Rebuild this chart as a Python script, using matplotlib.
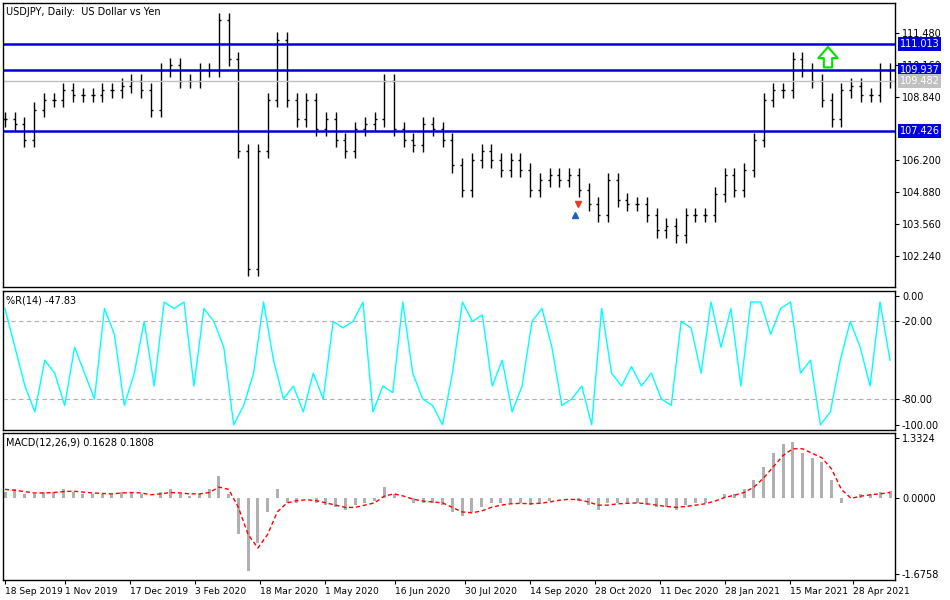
import matplotlib
matplotlib.use("Agg")
import matplotlib.pyplot as plt
import numpy as np

closes = [107.9,107.7,107.05,108.3,108.7,108.7,109.1,108.9,108.9,108.9,109.1,109.1,109.3,109.5,109.1,108.3,
          109.95,110.15,109.5,109.5,109.95,109.95,112.0,110.4,106.6,101.7,106.6,108.7,111.2,108.7,107.9,108.7,
          107.5,107.9,107.05,106.6,107.5,107.7,107.9,109.5,107.5,107.05,106.85,107.7,107.5,107.05,106.0,104.98,
          106.2,106.6,106.2,105.8,106.2,105.8,104.98,105.4,105.6,105.4,105.6,104.98,104.4,103.95,105.4,104.56,
          104.4,104.4,103.95,103.3,103.5,103.1,103.95,103.95,103.95,104.8,105.6,104.98,105.8,107.05,108.7,109.1,
          109.1,110.4,109.95,109.5,108.7,107.9,109.1,109.3,108.9,108.9,109.95,109.5]
willr = [-10,-40,-70,-90,-50,-60,-85,-40,-60,-80,-10,-30,-85,-60,-20,-70,-5,-10,-5,-70,-10,-20,-40,-100,-85,-60,
         -5,-50,-80,-70,-90,-60,-80,-20,-25,-20,-5,-90,-70,-75,-5,-60,-80,-85,-100,-60,-5,-20,-15,-70,-50,-90,-70,
         -20,-10,-40,-85,-80,-70,-100,-10,-60,-70,-55,-70,-60,-80,-85,-20,-25,-60,-5,-40,-10,-70,-5,-5,-30,-10,-5,
         -60,-50,-100,-90,-50,-20,-40,-70,-5,-50]
macd = [0.15,0.2,0.1,0.1,0.15,0.15,0.2,0.15,0.1,0.1,0.1,0.1,0.15,0.15,0.1,0.0,0.15,0.2,0.1,0.05,0.1,0.2,0.5,
        0.1,-0.8,-1.6,-1.0,-0.3,0.2,-0.1,-0.1,0.0,-0.1,-0.15,-0.2,-0.25,-0.15,-0.1,-0.05,0.25,0.1,0.0,-0.1,-0.1,
        -0.1,-0.15,-0.3,-0.4,-0.3,-0.2,-0.1,-0.1,-0.1,-0.1,-0.15,-0.1,-0.05,0.0,0.0,-0.05,-0.15,-0.25,-0.1,-0.1,
        -0.1,-0.1,-0.15,-0.2,-0.2,-0.25,-0.15,-0.1,-0.1,0.0,0.1,0.1,0.2,0.4,0.7,1.0,1.2,1.25,1.0,0.9,0.8,0.4,
        -0.1,0.0,0.1,0.1,0.15,0.16]
signal = [0.2,0.18,0.15,0.12,0.12,0.13,0.15,0.16,0.14,0.12,0.11,0.1,0.12,0.13,0.12,0.08,0.1,0.13,0.12,0.1,0.1,
          0.13,0.25,0.2,-0.2,-0.8,-1.1,-0.8,-0.3,-0.1,-0.05,-0.03,-0.05,-0.1,-0.15,-0.2,-0.2,-0.15,-0.1,0.05,0.1,
          0.05,-0.02,-0.06,-0.08,-0.1,-0.2,-0.3,-0.32,-0.28,-0.2,-0.15,-0.12,-0.11,-0.12,-0.11,-0.08,-0.04,-0.02,
          -0.03,-0.08,-0.15,-0.15,-0.12,-0.11,-0.1,-0.12,-0.15,-0.18,-0.2,-0.18,-0.15,-0.12,-0.06,0.02,0.07,0.13,
          0.25,0.45,0.7,0.95,1.1,1.1,1.0,0.9,0.65,0.2,0.0,0.05,0.08,0.1,0.13]
date_labels = ["18 Sep 2019","1 Nov 2019","17 Dec 2019","3 Feb 2020","18 Mar 2020","1 May 2020","16 Jun 2020",
               "30 Jul 2020","14 Sep 2020","28 Oct 2020","11 Dec 2020","28 Jan 2021","15 Mar 2021","28 Apr 2021"]
date_pos = [0,6,12.5,19,25.5,32,39,46,52.5,59,65.5,72,78.5,84.8]
levels = [111.013,109.937,107.426]
last_price = 109.482
price_ticks = [111.480,110.160,108.840,106.200,104.880,103.560,102.240]
wr_ticks = [0,-20,-80,-100]
macd_ticks = [1.3324,0.0,-1.6758]

W,H = 950,600
fig = plt.figure(figsize=(9.5,6),dpi=100)
fig.patch.set_facecolor("white")
def ax_at(x0,y0,x1,y1):
    return fig.add_axes([x0/W,1-y1/H,(x1-x0)/W,(y1-y0)/H])
ax1 = ax_at(3,3,895,287)
ax2 = ax_at(3,291,895,430)
ax3 = ax_at(3,433,895,580)
XMAX = 89
def xs(vals):
    return np.linspace(0, XMAX-0.5, len(vals))
fs = 7
for a in (ax1,ax2,ax3):
    a.set_xlim(-0.2,XMAX)
    a.set_xticks([])
    a.yaxis.tick_right()
    a.tick_params(axis='y',labelsize=fs,length=3,pad=2)
    for s in a.spines.values():
        s.set_linewidth(1); s.set_color("black")

# price bars
c = np.array(closes)
x = xs(closes)
prev = np.r_[c[0],c[:-1]]
hi = np.maximum(prev,c)+0.3
lo = np.minimum(prev,c)-0.3
ax1.vlines(x,lo,hi,color="black",lw=1)
ax1.hlines(c,x,x+0.2,color="black",lw=1)
ax1.hlines(prev,x-0.2,x,color="black",lw=1)
ax1.set_ylim(100.96,112.72)
ax1.set_yticks(price_ticks)
ax1.set_yticklabels([f"{t:.3f}" for t in price_ticks])
ax1.axhline(last_price,color="#c0c0c0",lw=1)
for lv in levels:
    ax1.axhline(lv,color="#0000e0",lw=1.8)
    ax1.text(1.005,lv,f"{lv:.3f}",transform=ax1.get_yaxis_transform(),va="center",ha="left",fontsize=fs,
             color="white",bbox=dict(boxstyle="square,pad=0.2",fc="#0000e0",ec="none"))
ax1.text(1.005,last_price,f"{last_price:.3f}",transform=ax1.get_yaxis_transform(),va="center",ha="left",
         fontsize=fs,color="white",bbox=dict(boxstyle="square,pad=0.2",fc="#c0c0c0",ec="none"))
ax1.annotate("",xy=(82.3,levels[0]),xytext=(82.3,levels[1]),
             arrowprops=dict(arrowstyle="simple,head_width=1.4,head_length=0.8,tail_width=0.6",
                             fc="white",ec="#00e000",lw=1.5))
ax1.plot([57.3],[104.4],marker="v",color="#e04020",ms=4)
ax1.plot([57.0],[103.95],marker="^",color="#2060c0",ms=4)
ax1.text(0.003,0.985,"USDJPY, Daily:  US Dollar vs Yen",transform=ax1.transAxes,fontsize=fs,va="top")

# Williams %R
ax2.plot(xs(willr),willr,color="#00ffff",lw=1)
ax2.set_ylim(-104,3.5)
for lv in (-20,-80):
    ax2.axhline(lv,color="#b0b0b0",lw=0.8,ls=(0,(4,3)))
ax2.set_yticks(wr_ticks)
ax2.set_yticklabels([f"{t:.2f}" for t in wr_ticks])
ax2.text(0.003,0.97,"%R(14) -47.83",transform=ax2.transAxes,fontsize=fs,va="top")

# MACD
ax3.bar(xs(macd),macd,width=0.3,color="#b0b0b0")
ax3.plot(xs(signal),signal,color="#ff0000",lw=1,ls=(0,(3,2)))
ax3.set_ylim(-1.81,1.45)
ax3.set_yticks(macd_ticks)
ax3.set_yticklabels([f"{t:.4f}" for t in macd_ticks])
ax3.text(0.003,0.97,"MACD(12,26,9) 0.1628 0.1808",transform=ax3.transAxes,fontsize=fs,va="top")
ax3.set_xticks(date_pos)
ax3.set_xticklabels(date_labels,fontsize=6.6,ha="left")
ax3.tick_params(axis='x',length=3,pad=2)
fig.savefig("out.png",dpi=100)
